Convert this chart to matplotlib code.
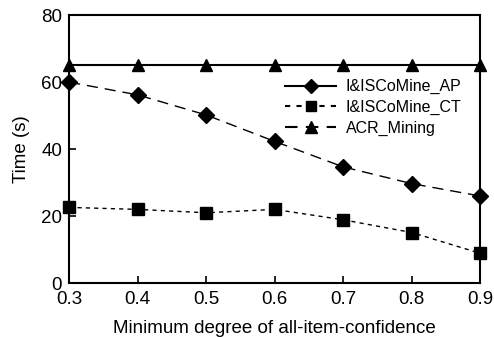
import matplotlib
matplotlib.use("Agg")
import matplotlib.pyplot as plt
from matplotlib.lines import Line2D

# data
confidence = [0.3, 0.4, 0.5, 0.6, 0.7, 0.8, 0.9]
time_ap = [60.0, 56.2, 50.2, 42.3, 34.7, 29.7, 26.0]
time_ct = [22.6, 22.0, 21.0, 22.0, 18.9, 15.1, 8.9]
time_acr = [65, 65, 65, 65, 65, 65, 65]
series_names = ["I&ISCoMine_AP", "I&ISCoMine_CT", "ACR_Mining"]

plt.rcParams["font.family"] = ["Liberation Sans", "DejaVu Sans"]
plt.rcParams["font.size"] = 13.5

fig = plt.figure(figsize=(4.94, 3.37), dpi=100)
ax = fig.add_axes([0.14, 0.16, 0.832, 0.795])

ax.plot(confidence, time_ap, color="black", lw=1, dashes=(8, 5),
        marker="D", ms=8, clip_on=False, zorder=3)
ax.plot(confidence, time_ct, color="black", lw=1, dashes=(3, 3),
        marker="s", ms=8, clip_on=False, zorder=3)
ax.plot(confidence, time_acr, color="black", lw=1.5,
        marker="^", ms=9, clip_on=False, zorder=3)

ax.set_xlim(0.3, 0.9)
ax.set_ylim(0, 80)
ax.set_xticks(confidence)
ax.set_xticklabels(["%.1f" % c for c in confidence])
ax.set_yticks([0, 20, 40, 60, 80])
ax.tick_params(direction="in", length=5, width=1.2, labelsize=13.5)
ax.tick_params(axis="x", pad=6)
ax.tick_params(axis="y", pad=5)
for s in ax.spines.values():
    s.set_linewidth(1.5)

ax.set_xlabel("Minimum degree of all-item-confidence", labelpad=8)
ax.set_ylabel("Time (s)", labelpad=8)

# legend line styles differ from the plotted ones in the reference
handles = [
    Line2D([], [], color="black", lw=1.5, marker="D", ms=7),
    Line2D([], [], color="black", lw=1.5, dashes=(2.5, 3), marker="s", ms=7.5),
    Line2D([], [], color="black", lw=1.5, dashes=(6, 4), marker="^", ms=8),
]
ax.legend(handles, series_names, loc="upper left", bbox_to_anchor=(0.51, 0.785),
          frameon=False, handlelength=3.2, handletextpad=0.6,
          labelspacing=0.35, borderaxespad=0, fontsize=11.5)

fig.savefig("out.png", dpi=100)
plt.close("all")
